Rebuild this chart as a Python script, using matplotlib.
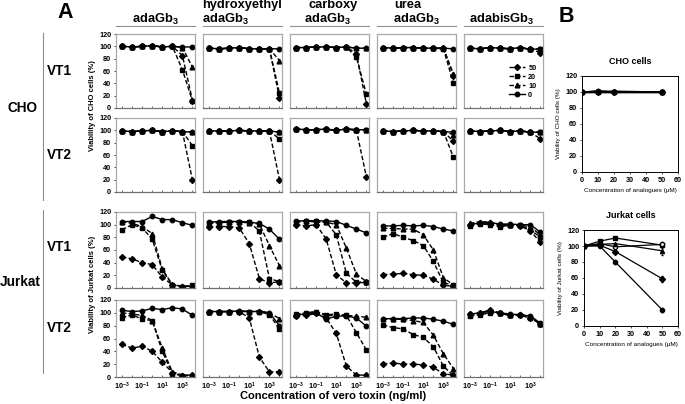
import numpy as np
import matplotlib
matplotlib.use("Agg")
import matplotlib.pyplot as plt
from matplotlib.lines import Line2D

plt.rcParams['font.family'] = ['Liberation Sans', 'DejaVu Sans']
plt.rcParams['font.weight'] = 'bold'
plt.rcParams['mathtext.fontset'] = 'custom'
plt.rcParams['mathtext.rm'] = 'Liberation Sans:bold'
plt.rcParams['mathtext.bf'] = 'Liberation Sans:bold'
plt.rcParams['mathtext.default'] = 'bf'

# vero toxin concentrations (ng/ml)
toxin = [1e-3, 1e-2, 1e-1, 1, 10, 100, 1e3, 1e4]
analogue_doses = ["50", "20", "10", "0"]
compounds = ["adaGb3", "hydroxyethyl adaGb3", "carboxy adaGb3", "urea adaGb3", "adabisGb3"]

# each panel: rows = 50, 20, 10, 0 uM analogue
cho_vt1_ada = [[100, 99, 100, 101, 99, 100, 85, 12],
               [100, 99, 100, 101, 99, 100, 62, 11],
               [100, 99, 100, 101, 99, 100, 98, 66],
               [100, 99, 100, 101, 99, 100, 99, 99]]
cho_vt1_hydroxy = [[97, 96, 97, 98, 96, 96, 96, 16],
                   [97, 96, 97, 98, 96, 96, 96, 24],
                   [97, 96, 97, 98, 96, 96, 96, 77],
                   [97, 96, 97, 98, 96, 96, 96, 96]]
cho_vt1_carboxy = [[98, 98, 99, 99, 98, 99, 88, 6],
                   [98, 98, 99, 99, 98, 99, 82, 22],
                   [98, 98, 99, 99, 98, 99, 97, 97],
                   [98, 98, 99, 99, 98, 99, 97, 97]]
cho_vt1_urea = [[98, 97, 98, 98, 97, 97, 97, 52],
                [98, 97, 98, 98, 97, 97, 96, 40],
                [98, 97, 98, 98, 97, 97, 97, 55],
                [98, 97, 98, 98, 97, 97, 97, 96]]
cho_vt1_adabis = [[97, 96, 98, 97, 96, 98, 95, 90],
                  [97, 96, 98, 97, 96, 98, 95, 96],
                  [97, 96, 98, 97, 96, 98, 95, 96],
                  [97, 96, 98, 97, 96, 98, 95, 96]]

cho_vt2_ada = [[99, 98, 99, 100, 98, 99, 98, 19],
               [99, 98, 99, 100, 98, 99, 98, 75],
               [99, 98, 99, 100, 98, 99, 98, 97],
               [99, 98, 99, 100, 98, 99, 98, 97]]
cho_vt2_hydroxy = [[99, 99, 99, 100, 99, 99, 99, 20],
                   [99, 99, 99, 100, 99, 99, 99, 86],
                   [99, 99, 99, 100, 99, 99, 99, 97],
                   [99, 99, 99, 100, 99, 99, 99, 97]]
cho_vt2_carboxy = [[102, 101, 101, 102, 100, 102, 100, 24],
                   [102, 101, 101, 102, 100, 102, 101, 101],
                   [102, 101, 101, 102, 100, 102, 101, 101],
                   [102, 101, 101, 102, 100, 102, 101, 101]]
cho_vt2_urea = [[99, 98, 99, 100, 99, 99, 98, 82],
                [99, 98, 99, 100, 99, 99, 98, 56],
                [99, 98, 99, 100, 99, 99, 98, 93],
                [99, 98, 99, 100, 99, 99, 98, 97]]
cho_vt2_adabis = [[99, 98, 99, 100, 98, 99, 97, 86],
                  [99, 98, 99, 100, 98, 99, 97, 97],
                  [99, 98, 99, 100, 98, 99, 97, 97],
                  [99, 98, 99, 100, 98, 99, 97, 97]]

jurkat_vt1_ada = [[49, 46, 40, 37, 17, 5, 2, 3],
                  [92, 100, 95, 77, 28, 5, 2, 4],
                  [105, 102, 97, 86, 30, 5, 3, 3],
                  [105, 105, 105, 113, 108, 108, 103, 99]]
jurkat_vt1_hydroxy = [[96, 97, 97, 95, 70, 15, 8, 10],
                      [103, 103, 105, 105, 104, 90, 15, 10],
                      [103, 103, 104, 104, 103, 101, 67, 35],
                      [104, 105, 105, 105, 104, 102, 93, 77]]
jurkat_vt1_carboxy = [[100, 98, 100, 77, 21, 8, 8, 9],
                      [104, 106, 106, 104, 84, 23, 9, 10],
                      [104, 106, 104, 104, 100, 63, 22, 10],
                      [106, 106, 106, 106, 105, 99, 93, 87]]
jurkat_vt1_urea = [[21, 22, 23, 21, 20, 14, 4, 3],
                   [80, 86, 80, 75, 67, 42, 8, 5],
                   [94, 94, 93, 93, 84, 60, 16, 5],
                   [98, 98, 99, 98, 99, 97, 93, 90]]
jurkat_vt1_adabis = [[100, 103, 102, 100, 99, 98, 90, 72],
                     [98, 101, 100, 97, 99, 99, 92, 80],
                     [102, 105, 104, 100, 99, 100, 96, 84],
                     [100, 103, 103, 101, 101, 100, 100, 88]]

jurkat_vt2_ada = [[51, 45, 48, 40, 23, 7, 2, 3],
                  [92, 97, 90, 88, 40, 5, 2, 2],
                  [100, 98, 96, 88, 45, 8, 3, 3],
                  [104, 102, 103, 107, 105, 108, 106, 96]]
jurkat_vt2_hydroxy = [[102, 102, 102, 102, 92, 31, 8, 8],
                      [102, 102, 102, 102, 102, 102, 97, 75],
                      [102, 102, 102, 103, 102, 103, 100, 91],
                      [102, 102, 102, 103, 102, 102, 100, 80]]
jurkat_vt2_carboxy = [[95, 96, 99, 92, 68, 17, 3, 3],
                      [98, 100, 102, 97, 98, 96, 69, 42],
                      [97, 99, 102, 95, 97, 96, 95, 93],
                      [97, 98, 100, 90, 95, 95, 92, 79]]
jurkat_vt2_urea = [[20, 22, 20, 20, 19, 15, 5, 3],
                   [81, 77, 75, 66, 62, 47, 17, 2],
                   [90, 90, 90, 88, 85, 65, 36, 13],
                   [91, 91, 91, 92, 92, 90, 87, 82]]
jurkat_vt2_adabis = [[98, 100, 104, 99, 96, 97, 92, 83],
                     [95, 97, 100, 99, 96, 96, 92, 83],
                     [96, 100, 104, 100, 96, 98, 93, 82],
                     [98, 100, 102, 100, 98, 97, 95, 84]]

panels = [
    [cho_vt1_ada, cho_vt1_hydroxy, cho_vt1_carboxy, cho_vt1_urea, cho_vt1_adabis],
    [cho_vt2_ada, cho_vt2_hydroxy, cho_vt2_carboxy, cho_vt2_urea, cho_vt2_adabis],
    [jurkat_vt1_ada, jurkat_vt1_hydroxy, jurkat_vt1_carboxy, jurkat_vt1_urea, jurkat_vt1_adabis],
    [jurkat_vt2_ada, jurkat_vt2_hydroxy, jurkat_vt2_carboxy, jurkat_vt2_urea, jurkat_vt2_adabis],
]

# panel B: analogue alone
analogue_conc = [0, 10, 20, 50]
cho_b_ada = [100, 101, 100, 100]
cho_b_hydroxy = [100, 100, 100, 100]
cho_b_carboxy = [100, 101, 101, 100]
cho_b_urea = [100, 100, 100, 100]
cho_b_adabis = [100, 101, 100, 100]
jurkat_b_square = [100, 106, 110, 101]
jurkat_b_open = [100, 103, 99, 102]
jurkat_b_triangle = [100, 102, 103, 94]
jurkat_b_diamond = [100, 101, 93, 59]
jurkat_b_circle = [100, 100, 80, 20]
jurkat_b_err_square = [1, 1, 1, 3]
jurkat_b_err_open = [1, 1, 2, 3]
jurkat_b_err_triangle = [1, 1, 1, 5]
jurkat_b_err_diamond = [1, 1, 2, 4]
jurkat_b_err_circle = [1, 1, 3, 3]

W, H = 685, 404
fig = plt.figure(figsize=(W / 100, H / 100), dpi=100)


def px_axes(l, t, r, b):
    return fig.add_axes([l / W, 1 - b / H, (r - l) / W, (b - t) / H])


def ftxt(x, y, s, **kw):
    fig.text(x / W, 1 - y / H, s, **kw)


col_left = [116, 203, 290, 377, 464]
col_w = 79
row_tb = [(34, 108), (118, 192), (212, 288), (300, 377)]
markers = ['D', 's', '^', 'o']
msizes = [3.0, 3.0, 3.4, 3.2]
styles = [(0, (3.2, 1.6)), (0, (3.2, 1.6)), (0, (3.2, 1.6)), '-']

for i, (t, b) in enumerate(row_tb):
    for j, left in enumerate(col_left):
        ax = px_axes(left, t, left + col_w, b)
        data = panels[i][j]
        for k in range(4):
            ax.plot(toxin, data[k], color='black', lw=1.0, linestyle=styles[k],
                    marker=markers[k], ms=msizes[k], label=analogue_doses[k])
        ax.set_xscale('log')
        ax.set_xlim(10 ** -3.6, 10 ** 4.25)
        ax.set_ylim(0, 120)
        for s in ['top', 'right', 'left']:
            ax.spines[s].set_color('#a8a8a8')
            ax.spines[s].set_linewidth(0.9)
        ax.spines['bottom'].set_color('#707070')
        ax.spines['bottom'].set_linewidth(0.9)
        ax.set_xticks([10.0 ** e for e in range(-3, 5)])
        ax.tick_params(axis='x', which='both', direction='in', length=1.5,
                       width=0.5, color='#333333', labelsize=5.2, pad=3)
        if i == 3:
            ax.set_xticklabels([r'$10^{-3}$', '', r'$10^{-1}$', '', r'$10^{1}$', '',
                                r'$10^{3}$', ''])
        else:
            ax.set_xticklabels([])
        if j == 0:
            ax.set_yticks(range(0, 121, 20))
            ax.tick_params(axis='y', length=1.5, width=0.5, labelsize=5.2, pad=2)
        else:
            ax.set_yticks([])
        if i == 0 and j == 4:
            handles = [Line2D([], [], color='black', lw=1.0, linestyle=styles[k],
                              marker=markers[k], ms=msizes[k]) for k in range(4)]
            ax.legend(handles, analogue_doses, loc='lower right',
                      bbox_to_anchor=(0.98, 0.06), frameon=False, fontsize=5.2,
                      handlelength=2.2, labelspacing=0.25, handletextpad=0.4,
                      borderpad=0.2)

# column headers
for left in col_left:
    fig.add_artist(Line2D([left / W, (left + col_w) / W], [1 - 26 / H, 1 - 26 / H],
                          color='#909090', lw=0.8))
hfs = 9.3
ftxt(155, 19, r'adaGb$_3$', fontsize=hfs, ha='center', va='center')
ftxt(202, 5, 'hydroxyethyl', fontsize=hfs, ha='left', va='center')
ftxt(202, 19, r'adaGb$_3$', fontsize=hfs, ha='left', va='center')
ftxt(333, 5, 'carboxy', fontsize=hfs, ha='center', va='center')
ftxt(327, 19, r'adaGb$_3$', fontsize=hfs, ha='center', va='center')
ftxt(394, 5, 'urea', fontsize=hfs, ha='left', va='center')
ftxt(393, 19, r'adaGb$_3$', fontsize=hfs, ha='left', va='center')
ftxt(502, 19, r'adabisGb$_3$', fontsize=hfs, ha='center', va='center')

# row labels
ftxt(65, 12, 'A', fontsize=15.5, ha='center', va='center')
ftxt(566, 16, 'B', fontsize=15.5, ha='center', va='center')
ftxt(22, 108, 'CHO', fontsize=9.8, ha='center', va='center')
ftxt(20, 282, 'Jurkat', fontsize=9.8, ha='center', va='center')
for y, s in [(71, 'VT1'), (155, 'VT2'), (247, 'VT1'), (328, 'VT2')]:
    ftxt(59, y, s, fontsize=9.8, ha='center', va='center')
fig.add_artist(Line2D([43 / W, 43 / W], [1 - 33 / H, 1 - 200 / H], color='#909090', lw=0.8))
fig.add_artist(Line2D([43 / W, 43 / W], [1 - 210 / H, 1 - 373 / H], color='#909090', lw=0.8))

ftxt(93, 106, 'Viability of CHO cells (%)', fontsize=5.5, rotation=90, ha='center', va='center')
ftxt(92, 284, 'Viability of Jurkat cells (%)', fontsize=5.5, rotation=90, ha='center', va='center')
ftxt(333, 396, 'Concentration of vero toxin (ng/ml)', fontsize=8, ha='center', va='center')


def style_b(ax, title, ylabel):
    ax.set_xlim(0, 60)
    ax.set_ylim(0, 120)
    ax.set_xticks(range(0, 61, 10))
    ax.set_yticks(range(0, 121, 20))
    ax.tick_params(length=1.5, width=0.5, labelsize=5.2, pad=2)
    for s in ax.spines.values():
        s.set_linewidth(0.7)
    ax.set_title(title, fontsize=6.5, pad=9, fontweight='bold')
    ax.set_ylabel(ylabel, fontsize=4.6, labelpad=3)
    ax.set_xlabel('Concentration of analogues (\u03bcM)', fontsize=4.6, labelpad=3)


ax_cho = px_axes(582, 76, 678, 172)
for vals, m in zip([cho_b_ada, cho_b_hydroxy, cho_b_carboxy, cho_b_urea, cho_b_adabis],
                   ['o', 'D', '^', 's', 'o']):
    ax_cho.plot(analogue_conc, vals, color='black', lw=1.0, marker=m, ms=3.0)
style_b(ax_cho, 'CHO cells', 'Viability of CHO cells (%)')

ax_jur = px_axes(584, 230, 678, 326)
jur_series = [(jurkat_b_square, jurkat_b_err_square, 's', 'black'),
              (jurkat_b_open, jurkat_b_err_open, 'o', 'white'),
              (jurkat_b_triangle, jurkat_b_err_triangle, '^', 'black'),
              (jurkat_b_diamond, jurkat_b_err_diamond, 'D', 'black'),
              (jurkat_b_circle, jurkat_b_err_circle, 'o', 'black')]
for vals, err, m, fc in jur_series:
    ax_jur.errorbar(analogue_conc, vals, yerr=err, color='black', lw=0.9, marker=m,
                    ms=3.0, mfc=fc, mec='black', elinewidth=0.5, capsize=1)
style_b(ax_jur, 'Jurkat cells', 'Viability of Jurkat cells (%)')

fig.savefig('out.png', dpi=100)
